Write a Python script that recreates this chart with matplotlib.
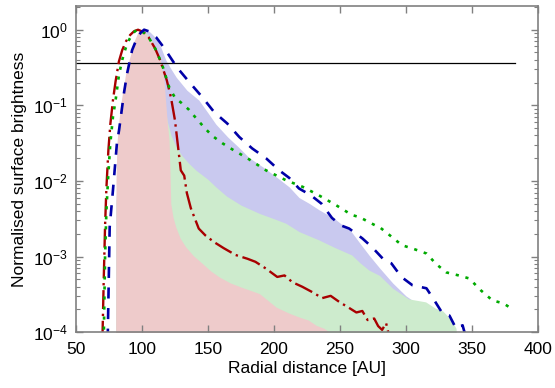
import numpy as np
import matplotlib
matplotlib.use("Agg")
import matplotlib.pyplot as plt
from matplotlib.ticker import LogLocator, NullFormatter

plt.rcParams['font.family'] = ['Liberation Sans', 'DejaVu Sans']
plt.rcParams['mathtext.fontset'] = 'custom'
plt.rcParams['mathtext.rm'] = 'Liberation Sans'
plt.rcParams['mathtext.it'] = 'Liberation Sans:italic'

# ---- data: radius [AU], log10(normalised brightness) ----
# shaded model profiles
r_blue_fill = [80, 80.3, 82, 84, 86, 88, 91, 94, 97, 100, 102.5, 106, 110, 114, 118, 122, 126,
               134, 143, 150, 156, 165, 173, 181, 192, 202, 211.6, 219, 227, 234, 246, 259,
               265, 272, 280, 290, 300, 305, 310, 315]
lg_blue_fill = [-4.5, -2.3, -1.7, -1.3, -1.0, -0.8, -0.55, -0.35, -0.18, -0.05, 0.0, -0.03, -0.1,
                -0.22, -0.40, -0.52, -0.63, -0.8, -0.93, -1.1, -1.25, -1.42, -1.55, -1.69, -1.82,
                -1.95, -2.08, -2.22, -2.3, -2.38, -2.5, -2.68, -2.82, -2.98, -3.15, -3.35, -3.52,
                -3.58, -3.75, -4.5]

r_green_fill = [80, 80.3, 82, 84, 86, 88, 91, 94, 97, 99.5, 101, 104, 108, 112, 115, 117, 119,
                122, 126, 130, 135, 141, 150, 156, 164, 175, 189, 200, 209, 219, 234, 246, 259,
                265, 272, 280, 290, 302, 315, 322, 328, 335, 338, 341]
lg_green_fill = [-4.5, -2.3, -1.7, -1.35, -1.05, -0.82, -0.56, -0.34, -0.15, -0.03, -0.02, -0.06,
                 -0.16, -0.32, -0.6, -0.95, -1.2, -1.4, -1.55, -1.66, -1.76, -1.86, -1.98, -2.08,
                 -2.2, -2.32, -2.43, -2.5, -2.56, -2.67, -2.78, -2.88, -2.98, -3.08, -3.18, -3.25,
                 -3.42, -3.56, -3.6, -3.68, -3.72, -3.85, -3.95, -4.5]

r_red_fill = [80, 80.3, 81, 82.5, 84, 86, 88, 91, 94, 97.8, 101, 104, 107.5, 110, 113, 114.5,
              116.8, 119, 120.5, 121.2, 121.8, 123.5, 125.6, 129, 133, 139, 145.6, 152, 158.5,
              167, 176, 189, 201.7, 211.6, 219, 226, 232, 238, 242, 243]
lg_red_fill = [-4.5, -2.0, -1.5, -1.2, -0.97, -0.75, -0.54, -0.35, -0.15, 0.0, -0.03, -0.08,
               -0.17, -0.26, -0.36, -0.44, -0.69, -1.2, -1.46, -1.86, -2.3, -2.48, -2.61, -2.76,
               -2.87, -2.99, -3.09, -3.19, -3.27, -3.35, -3.41, -3.49, -3.67, -3.75, -3.8, -3.84,
               -3.91, -3.95, -4.0, -4.5]

# observed / fitted profiles (lines)
r_red = [70, 71, 72, 73, 74.5, 76, 78, 80, 82.5, 85, 88, 91, 94, 97, 101, 105, 110, 113.7,
         118.8, 122, 125, 129.4, 132, 134, 137, 143, 148, 154.7, 162, 171, 180, 186, 194,
         202.5, 208, 214, 221.5, 229, 236.6, 243, 249.5, 257, 262.5, 267, 271, 276, 279, 282,
         285, 288]
lg_red = [-4.1, -3.3, -2.6, -2.1, -1.6, -1.25, -0.93, -0.68, -0.42, -0.27, -0.15, -0.07, -0.02,
          0.0, -0.03, -0.1, -0.25, -0.40, -0.67, -0.9, -1.2, -1.86, -1.93, -2.16, -2.36, -2.63,
          -2.72, -2.81, -2.89, -2.98, -3.03, -3.07, -3.16, -3.27, -3.25, -3.34, -3.40, -3.47,
          -3.55, -3.52, -3.60, -3.68, -3.74, -3.72, -3.84, -3.82, -3.92, -3.97, -3.88, -4.1]

r_green = [71, 72, 73, 74.5, 76, 78, 80, 82.5, 85, 87.5, 90, 93, 96, 99, 102, 106, 110, 115,
           120.6, 125, 130, 135.7, 140, 147, 153, 160.8, 170, 179, 194, 209, 222, 234, 247, 259,
           265, 277, 280, 290, 297, 306, 315.6, 323, 330.7, 340, 348, 357, 365.6, 374, 382]
lg_green = [-4.1, -3.0, -2.4, -1.9, -1.5, -1.15, -0.93, -0.6, -0.40, -0.25, -0.14, -0.05, 0.0,
            -0.01, -0.05, -0.13, -0.25, -0.45, -0.76, -0.9, -0.97, -1.06, -1.15, -1.29, -1.40,
            -1.50, -1.6, -1.69, -1.86, -1.99, -2.08, -2.19, -2.32, -2.45, -2.48, -2.59, -2.61,
            -2.75, -2.85, -2.9, -2.96, -3.1, -3.21, -3.25, -3.29, -3.45, -3.58, -3.62, -3.71]

r_blue = [74, 75.5, 78, 81, 82.6, 86.4, 88.7, 92.5, 96, 99, 101.6, 105, 110.7, 115, 119, 126.6,
          135.7, 145.6, 154.7, 164.6, 173.8, 183.5, 194, 204, 211.6, 219, 228, 236, 244, 251,
          257, 267, 274.6, 283.7, 289, 296.6, 305, 315.6, 321.6, 327.7, 333, 338, 343, 346]
lg_blue = [-4.1, -2.61, -2.12, -1.50, -1.33, -0.83, -0.58, -0.27, -0.12, -0.04, 0.0, -0.02,
           -0.1, -0.2, -0.30, -0.50, -0.69, -0.89, -1.09, -1.24, -1.42, -1.57, -1.70, -1.86,
           -1.96, -2.10, -2.19, -2.30, -2.49, -2.59, -2.63, -2.76, -2.88, -3.05, -3.09, -3.27,
           -3.38, -3.42, -3.58, -3.75, -3.78, -3.95, -3.91, -4.1]

level = np.exp(-1)   # 1/e reference line
level_range = [50, 383]

fig = plt.figure(figsize=(5.55, 3.88), dpi=100)
ax = fig.add_axes([0.137, 0.144, 0.832, 0.841])

floor = 1e-5
ax.fill_between(r_blue_fill, floor, 10**np.array(lg_blue_fill), color='#c9c9ef', lw=0)
ax.fill_between(r_green_fill, floor, 10**np.array(lg_green_fill), color='#cdebcd', lw=0)
ax.fill_between(r_red_fill, floor, 10**np.array(lg_red_fill), color='#eecbcb', lw=0)

ax.plot(level_range, [level, level], color='black', lw=0.9)

ax.plot(r_red, 10**np.array(lg_red), color='#a80000', lw=1.7, dashes=(8, 2, 1, 2))
ax.plot(r_green, 10**np.array(lg_green), color='#00aa00', lw=1.9, dashes=(1.2, 2.6))
ax.plot(r_blue, 10**np.array(lg_blue), color='#0000a8', lw=1.9, dashes=(4.2, 3.6))

ax.set_yscale('log')
ax.set_xlim(50, 400)
ax.set_ylim(1e-4, 2.07)
ax.set_xticks([50, 100, 150, 200, 250, 300, 350, 400])
ax.yaxis.set_major_locator(LogLocator(base=10, numticks=10))
ax.yaxis.set_minor_locator(LogLocator(base=10, subs=np.arange(2, 10), numticks=10))
ax.yaxis.set_minor_formatter(NullFormatter())

ax.tick_params(which='both', direction='in', top=True, right=True, color='#808080',
               labelsize=12.5, labelcolor='black')
ax.tick_params(which='major', length=5, width=1)
ax.tick_params(which='minor', length=3, width=0.8)
ax.tick_params(axis='x', pad=7)
ax.tick_params(axis='y', pad=6)
for s in ax.spines.values():
    s.set_color('#808080')
    s.set_linewidth(1.2)

ax.set_xlabel('Radial distance [AU]', fontsize=12.5, labelpad=3)
ax.set_ylabel('Normalised surface brightness', fontsize=12.5, labelpad=4)

plt.savefig('out.png', dpi=100)
